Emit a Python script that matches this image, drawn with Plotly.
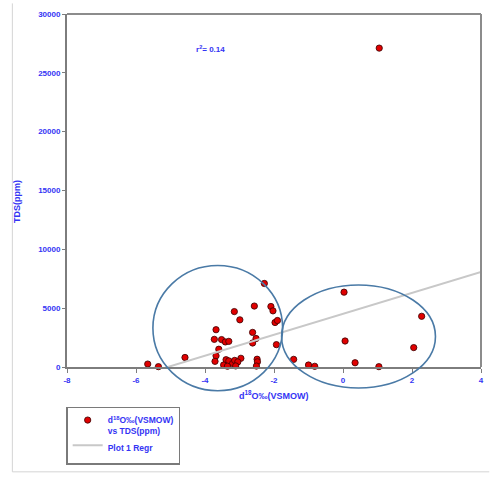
import numpy as np
import plotly.graph_objects as go

# d18O (permil, VSMOW) and TDS (ppm) for each sample
d18o = [1.05, 0.03, 2.28, 0.06, 2.05, 0.35, 1.04, -1.00, -0.82, -1.43,
        -2.28, -2.57, -3.15, -2.09, -2.03, -2.99, -1.97, -1.90, -3.68, -2.62,
        -2.52, -2.62, -3.73, -3.52, -3.41, -3.31, -1.93, -3.60, -3.68, -3.71,
        -2.96, -2.49, -2.48, -2.51, -3.39, -3.31, -3.20, -3.14, -3.05, -3.46,
        -3.35, -3.11, -5.66, -5.35, -4.58]
tds = [27100, 6360, 4310, 2210, 1650, 360, 30, 170, 60, 650,
       7100, 5180, 4710, 5140, 4770, 4010, 3780, 3950, 3170, 2940,
       2420, 2040, 2350, 2330, 2130, 2180, 1900, 1510, 950, 480,
       740, 660, 440, 80, 620, 520, 300, 560, 430, 170,
       70, 90, 250, 30, 810]

# linear regression of TDS on d18O
regr_slope = 889.0
regr_intercept = 4515.0
r_squared = 0.14

x_ticks = [-8, -6, -4, -2, 0, 2, 4]
y_ticks = [0, 5000, 10000, 15000, 20000, 25000, 30000]
x_range = [-8, 4]
y_range = [0, 30000]

# groups outlined by ellipses: (x0, x1, y0, y1) in data units
groups = [(-5.51, -1.75, -2020, 8630),
          (-1.78, 2.68, -1790, 6975)]

BLUE = "#3434f4"
FONT = "Liberation Sans"

regr_x = np.array([min(d18o), x_range[1]])
regr_y = regr_slope * regr_x + regr_intercept

fig = go.Figure()
fig.add_trace(go.Scatter(
    x=d18o, y=tds, mode="markers",
    name="d<sup>18</sup>O‰(VSMOW)<br>vs TDS(ppm)",
    marker=dict(color="#e00000", size=6.3, line=dict(color="#3a0000", width=0.8)),
    cliponaxis=False,
))
fig.add_trace(go.Scatter(
    x=regr_x, y=regr_y, mode="lines", name="Plot 1 Regr",
    line=dict(color="#c8c8c8", width=2),
))


def to_domain(v, rng):
    return (v - rng[0]) / (rng[1] - rng[0])


shapes = []
for gx0, gx1, gy0, gy1 in groups:
    shapes.append(dict(
        type="circle", xref="x domain", yref="y domain",
        x0=to_domain(gx0, x_range), x1=to_domain(gx1, x_range),
        y0=to_domain(gy0, y_range), y1=to_domain(gy1, y_range),
        line=dict(color="#4a7aa6", width=1.6), layer="above",
    ))
# top and right frame of the plot area
shapes.append(dict(type="line", xref="x domain", yref="y domain",
                   x0=0, x1=1, y0=1, y1=1, line=dict(color="#8c8c8c", width=2)))
shapes.append(dict(type="line", xref="x domain", yref="y domain",
                   x0=1, x1=1, y0=0, y1=1, line=dict(color="#8c8c8c", width=2)))
# outer chart border
shapes.append(dict(type="line", xref="paper", yref="paper",
                   x0=-0.132, x1=-0.132, y0=-0.297, y1=1.03,
                   line=dict(color="#d4d4d4", width=1)))
shapes.append(dict(type="line", xref="paper", yref="paper",
                   x0=-0.132, x1=1.02, y0=-0.297, y1=-0.297,
                   line=dict(color="#d4d4d4", width=1)))

fig.update_layout(
    width=494, height=478,
    margin=dict(l=67, r=11, t=10, b=111),
    paper_bgcolor="white", plot_bgcolor="white",
    font=dict(family=FONT, color=BLUE, size=8),
    shapes=shapes,
    showlegend=True,
    legend=dict(
        x=-0.002, y=-0.112, xanchor="left", yanchor="top",
        bordercolor="#7a7a7a", borderwidth=1.5, bgcolor="white",
        font=dict(family=FONT, color=BLUE, size=8.5, weight="bold"),
        valign="top", tracegroupgap=8,
    ),
    annotations=[
        dict(x=-4.31, y=27050, xref="x", yref="y", xanchor="left",
             text=f"r<sup>2</sup>= {r_squared:.2f}", showarrow=False,
             font=dict(family=FONT, color=BLUE, size=8, weight="bold")),
        dict(x=0.5, y=-0.078, xref="paper", yref="paper", yanchor="middle",
             text="d<sup>18</sup>O‰(VSMOW)", showarrow=False,
             font=dict(family=FONT, color=BLUE, size=9, weight="bold")),
        dict(x=-0.138, y=0.47, xref="paper", yref="paper", textangle=-90,
             text="TDS(ppm)", showarrow=False,
             font=dict(family=FONT, color=BLUE, size=9, weight="bold")),
    ],
)
fig.update_xaxes(
    range=x_range, tickvals=x_ticks, ticktext=[str(t) for t in x_ticks],
    showgrid=False, zeroline=False, showline=True, linecolor="#7d7d7d", linewidth=2,
    ticks="outside", ticklen=4, tickcolor="#7d7d7d", tickwidth=1,
    tickfont=dict(family=FONT, color=BLUE, size=8, weight="bold"),
)
fig.update_yaxes(
    range=y_range, tickvals=y_ticks, ticktext=[str(t) for t in y_ticks],
    showgrid=False, zeroline=False, showline=True, linecolor="#7d7d7d", linewidth=2,
    ticks="outside", ticklen=3, tickcolor="#7d7d7d", tickwidth=1,
    tickfont=dict(family=FONT, color=BLUE, size=8, weight="bold"),
)

fig.write_html("out.html")
